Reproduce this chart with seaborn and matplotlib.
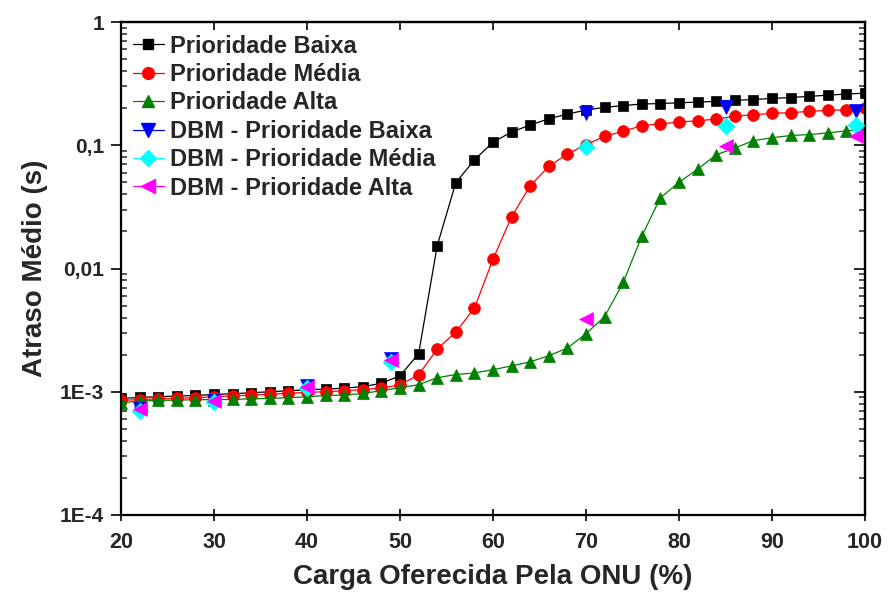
import matplotlib
matplotlib.use("Agg")
import matplotlib.pyplot as plt
from matplotlib.lines import Line2D
from matplotlib.ticker import FixedLocator, FixedFormatter, LogLocator, NullFormatter
import seaborn as sns
import pandas as pd

carga = [20, 22, 24, 26, 28, 30, 32, 34, 36, 38, 40, 42, 44, 46, 48, 50, 52, 54, 56, 58,
         60, 62, 64, 66, 68, 70, 72, 74, 76, 78, 80, 82, 84, 86, 88, 90, 92, 94, 96, 98, 100]

prio_baixa = [0.883e-3, 0.899e-3, 0.911e-3, 0.923e-3, 0.933e-3, 0.951e-3, 0.963e-3, 0.982e-3,
              1.0e-3, 1.019e-3, 1.038e-3, 1.05e-3, 1.07e-3, 1.10e-3, 1.17e-3, 1.35e-3, 2.03e-3,
              0.0153, 0.0497, 0.076, 0.106, 0.128, 0.146, 0.164, 0.179, 0.193, 0.203, 0.210,
              0.216, 0.218, 0.221, 0.224, 0.227, 0.231, 0.235, 0.240, 0.244, 0.249, 0.255,
              0.260, 0.265]
prio_media = [0.85e-3, 0.865e-3, 0.875e-3, 0.885e-3, 0.895e-3, 0.91e-3, 0.925e-3, 0.94e-3,
              0.955e-3, 0.97e-3, 0.99e-3, 1.0e-3, 1.02e-3, 1.04e-3, 1.07e-3, 1.14e-3, 1.37e-3,
              2.22e-3, 3.05e-3, 4.77e-3, 0.0119, 0.0263, 0.0469, 0.0673, 0.0849, 0.101, 0.118,
              0.130, 0.144, 0.149, 0.154, 0.158, 0.163, 0.172, 0.177, 0.181, 0.184, 0.188,
              0.192, 0.194, 0.200]
prio_alta = [0.814e-3, 0.84e-3, 0.85e-3, 0.856e-3, 0.861e-3, 0.864e-3, 0.866e-3, 0.877e-3,
             0.883e-3, 0.894e-3, 0.911e-3, 0.933e-3, 0.94e-3, 0.969e-3, 1.02e-3, 1.08e-3,
             1.14e-3, 1.30e-3, 1.38e-3, 1.42e-3, 1.51e-3, 1.62e-3, 1.75e-3, 1.96e-3, 2.26e-3,
             2.96e-3, 4.06e-3, 7.7e-3, 0.0183, 0.0375, 0.050, 0.064, 0.0836, 0.095, 0.109,
             0.115, 0.120, 0.122, 0.126, 0.131, 0.135]

carga_dbm = [22, 30, 40, 49, 70, 85, 99]
dbm_baixa = [0.73e-3, 0.84e-3, 1.12e-3, 1.85e-3, 0.183, 0.205, 0.190]
dbm_media = [0.70e-3, 0.82e-3, 1.08e-3, 1.75e-3, 0.096, 0.144, 0.146]
dbm_alta = [0.72e-3, 0.834e-3, 1.10e-3, 1.82e-3, 3.88e-3, 0.099, 0.118]

y_ticks = [1e-4, 1e-3, 1e-2, 1e-1, 1]
y_tick_labels = ["1E-4", "1E-3", "0,01", "0,1", "1"]
x_ticks = [20, 30, 40, 50, 60, 70, 80, 90, 100]

labels = ["Prioridade Baixa", "Prioridade Média", "Prioridade Alta",
          "DBM - Prioridade Baixa", "DBM - Prioridade Média", "DBM - Prioridade Alta"]

sns.set_theme(style="white")
plt.rcParams["font.family"] = ["Liberation Sans", "DejaVu Sans"]
plt.rcParams["font.weight"] = "bold"

fig = plt.figure(figsize=(8.88, 5.95), dpi=100)
ax = fig.add_axes([121 / 888, 1 - 515 / 595, (865 - 121) / 888, (515 - 22) / 595])

line_series = [
    (prio_baixa, "black", "s", 7),
    (prio_media, "#FF0000", "o", 8.5),
    (prio_alta, "#008000", "^", 9),
]
dbm_series = [
    (dbm_baixa, "#0000FF", "v", 10),
    (dbm_media, "#00FFFF", "D", 8.5),
    (dbm_alta, "#FF00FF", "<", 10),
]

handles = []
for vals, col, mk, ms in line_series:
    df = pd.DataFrame({"x": carga, "y": vals})
    sns.lineplot(data=df, x="x", y="y", ax=ax, color=col, marker=mk, markersize=ms,
                 markeredgecolor=col, markeredgewidth=0.5, linewidth=0.9, sort=True)
    handles.append(Line2D([], [], color=col, marker=mk, markersize=ms,
                          markeredgecolor=col, linewidth=0.9))
for vals, col, mk, ms in dbm_series:
    df = pd.DataFrame({"x": carga_dbm, "y": vals})
    sns.scatterplot(data=df, x="x", y="y", ax=ax, color=col, marker=mk, s=ms ** 2,
                    edgecolor=col, linewidth=0.5, zorder=5)
    handles.append(Line2D([], [], color=col, marker=mk, markersize=ms,
                          markeredgecolor=col, linewidth=0.9))

ax.set_yscale("log")
ax.set_xlim(20, 100)
ax.set_ylim(1e-4, 1)

ax.yaxis.set_major_locator(FixedLocator(y_ticks))
ax.yaxis.set_major_formatter(FixedFormatter(y_tick_labels))
ax.yaxis.set_minor_locator(LogLocator(base=10, subs=[2, 3, 4, 5, 6, 7, 8, 9]))
ax.yaxis.set_minor_formatter(NullFormatter())
ax.xaxis.set_major_locator(FixedLocator(x_ticks))

for sp in ax.spines.values():
    sp.set_linewidth(1.6)
    sp.set_color("black")

ax.tick_params(axis="x", which="major", direction="inout", length=9, width=1.4,
               labelsize=15.5, pad=8, bottom=True, top=False)
ax.tick_params(axis="y", which="major", direction="out", length=7, width=1.4,
               labelsize=15, pad=5, left=True, right=False)
ax.tick_params(axis="y", which="minor", direction="in", length=4, width=1.1,
               left=True, right=False)

for lab in ax.get_xticklabels() + ax.get_yticklabels():
    lab.set_fontweight("bold")

secx = ax.secondary_xaxis("top")
secx.xaxis.set_major_locator(FixedLocator(x_ticks))
secx.tick_params(direction="in", length=6, width=1.4, labeltop=False)
secy = ax.secondary_yaxis("right")
secy.set_yscale("log")
secy.yaxis.set_major_locator(FixedLocator(y_ticks))
secy.yaxis.set_minor_locator(LogLocator(base=10, subs=[2, 3, 4, 5, 6, 7, 8, 9]))
secy.yaxis.set_minor_formatter(NullFormatter())
secy.tick_params(which="major", direction="in", length=8, width=1.4, labelright=False)
secy.tick_params(which="minor", direction="in", length=4, width=1.1, labelright=False)
for sp in list(secx.spines.values()) + list(secy.spines.values()):
    sp.set_linewidth(1.6)

ax.set_xlabel("Carga Oferecida Pela ONU (%)", fontsize=20, fontweight="bold", labelpad=8)
ax.set_ylabel("Atraso Médio (s)", fontsize=20, fontweight="bold", labelpad=9)

leg = ax.legend(handles, labels, loc="upper left", bbox_to_anchor=(0.002, 0.996),
                frameon=False, fontsize=17, handlelength=1.3, handletextpad=0.25,
                labelspacing=0.23, borderaxespad=0.3, borderpad=0.15)
for t in leg.get_texts():
    t.set_fontweight("bold")

fig.savefig("out.png", dpi=100)
